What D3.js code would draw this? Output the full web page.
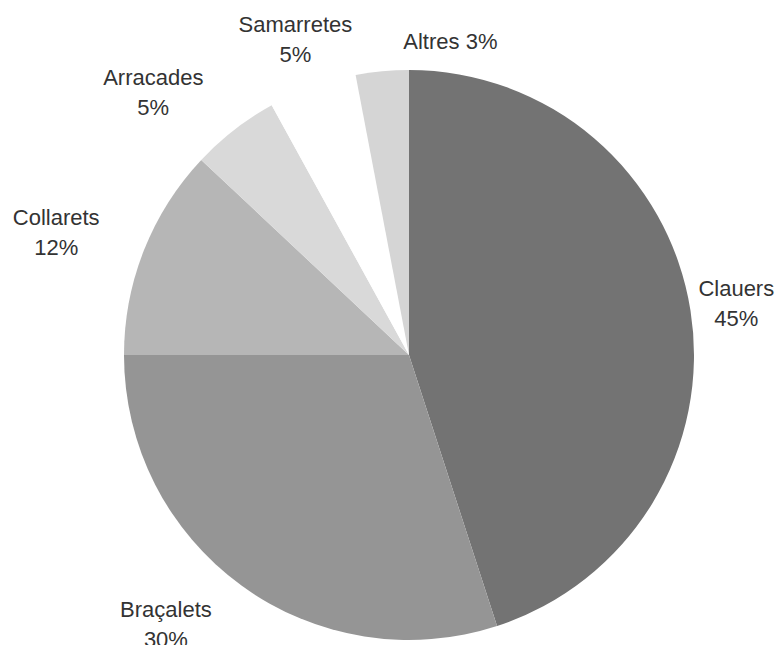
<!DOCTYPE html>
<html>
<head>
<meta charset="utf-8">
<script src="https://cdn.jsdelivr.net/npm/d3@7"></script>
<style>
  html, body { margin: 0; padding: 0; background: #ffffff; }
  svg { display: block; }
</style>
</head>
<body>
<svg id="chart" width="777" height="645"></svg>
<script>
// ---- data ----
const categories = ["Clauers", "Braçalets", "Collarets", "Arracades", "Samarretes", "Altres"];
const values = [45, 30, 12, 5, 5, 3];
const sliceColors = ["#737373", "#959595", "#b6b6b6", "#d9d9d9", "#ffffff", "#d5d5d5"];
const singleLineLabel = [false, false, false, false, false, true];

// ---- layout (label nudges from the default outside placement, in px) ----
const labelNudge = [[0, 2], [-52, 8], [-37, 4], [-56, -4], [-5, -12], [70, -10]];

const W = 777, H = 645;
const cx = 409, cy = 355, R = 285;
const fontSize = 22, lineGap = 30, labelGap = 8;

const svg = d3.select("#chart");
const g = svg.append("g").attr("transform", `translate(${cx},${cy})`);

const total = d3.sum(values);
const data = categories.map((c, i) => ({ name: c, value: values[i], i }));

const pie = d3.pie().sort(null).value(d => d.value).startAngle(0).endAngle(2 * Math.PI);
const arc = d3.arc().innerRadius(0).outerRadius(R);
const arcs = pie(data);

g.selectAll("path.slice")
  .data(arcs)
  .join("path")
  .attr("class", "slice")
  .attr("d", arc)
  .attr("fill", d => sliceColors[d.data.i]);

const fmt = d => Math.round(d.value / total * 100) + "%";

const labels = g.selectAll("text.lbl")
  .data(arcs)
  .join("text")
  .attr("class", "lbl")
  .attr("text-anchor", "middle")
  .attr("font-family", "'Liberation Sans', Arial, sans-serif")
  .attr("font-size", fontSize)
  .attr("fill", "#333333");

labels.each(function(d) {
  const t = d3.select(this);
  const i = d.data.i;
  const lines = singleLineLabel[i]
    ? [d.data.name + " " + fmt(d.data)]
    : [d.data.name, fmt(d.data)];
  lines.forEach(l => t.append("tspan").text(l));
  // measure widest line
  let w = 0;
  t.selectAll("tspan").each(function() { w = Math.max(w, this.getComputedTextLength()); });
  const h = lines.length === 1 ? 22 : 52;
  const mid = (d.startAngle + d.endAngle) / 2;
  const sx = Math.sin(mid), sy = -Math.cos(mid);
  const ex = Math.abs(sx) > 1e-6 ? (w / 2) / Math.abs(sx) : Infinity;
  const ey = Math.abs(sy) > 1e-6 ? (h / 2) / Math.abs(sy) : Infinity;
  const dist = R + labelGap + Math.min(ex, ey);
  const px = sx * dist + labelNudge[i][0];
  const py = sy * dist + labelNudge[i][1];
  if (lines.length === 1) {
    t.selectAll("tspan").attr("x", px).attr("y", py + 7);
  } else {
    t.selectAll("tspan").attr("x", px).attr("y", (_, k) => py - 9 + k * lineGap);
  }
});
</script>
</body>
</html>
